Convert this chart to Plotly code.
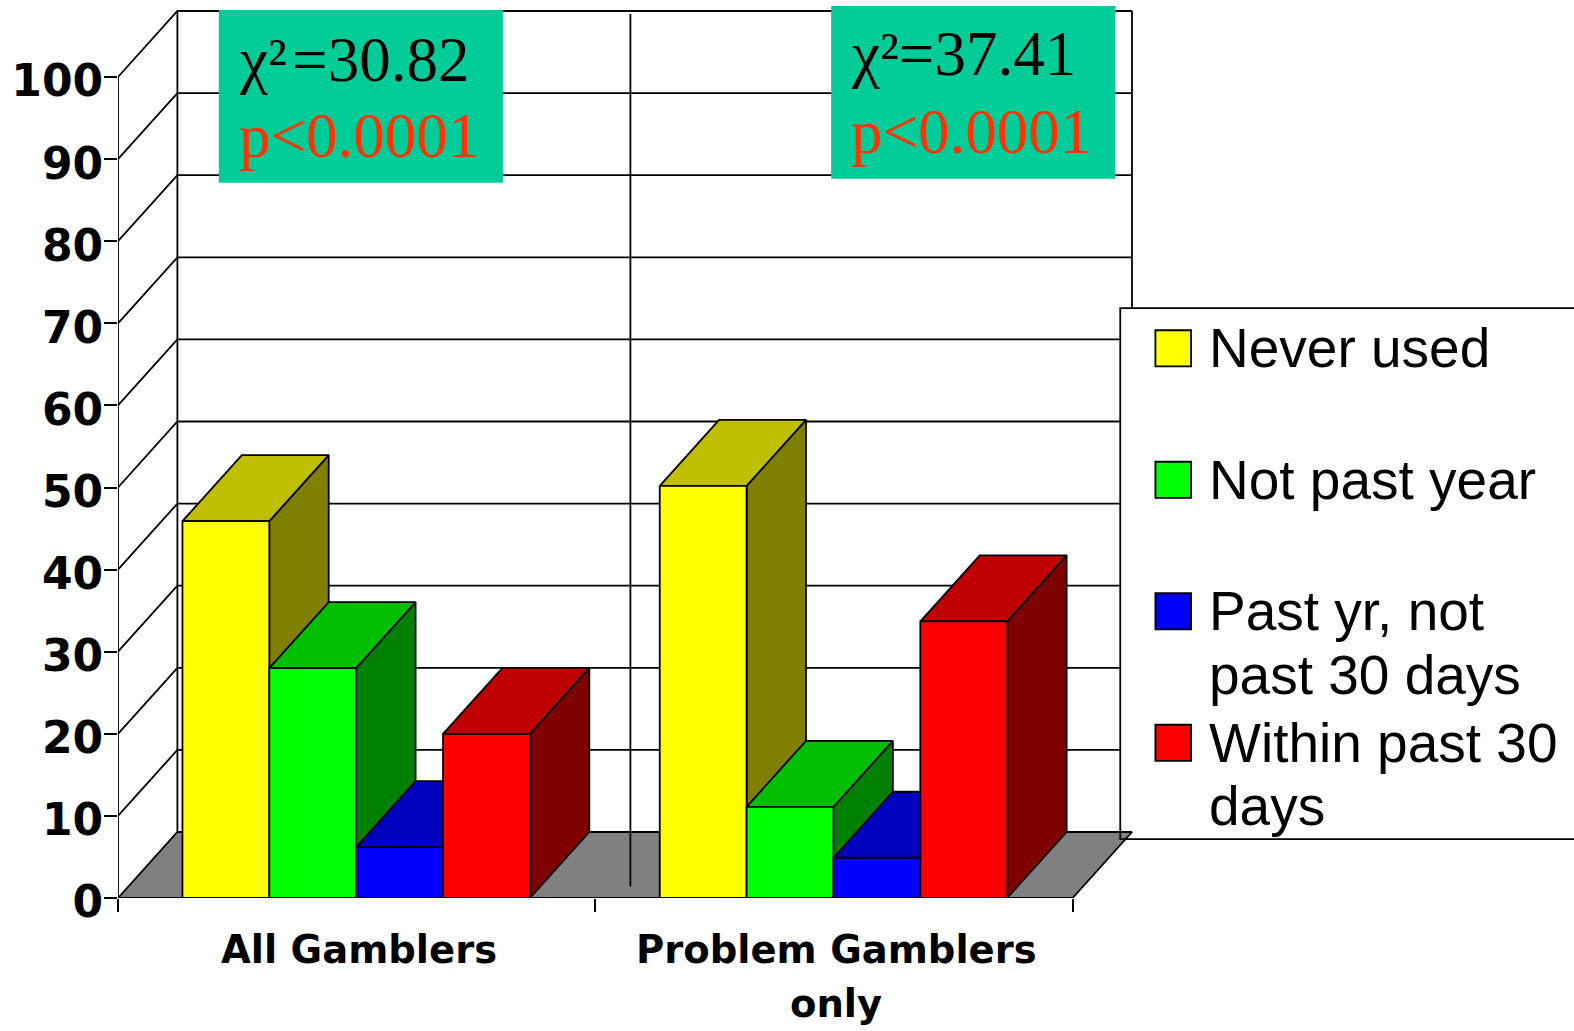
import plotly.graph_objects as go

# ---------- data ----------
categories = ["All Gamblers", "Problem Gamblers"]
category_second_line = [None, "only"]
series_names = ["Never used", "Not past year", "Past yr, not past 30 days", "Within past 30 days"]
never_used = [45.9, 50.2]
not_past_year = [28.0, 11.1]
past_yr_not_30 = [6.2, 4.9]
within_30 = [20.0, 33.7]
y_ticks = [0, 10, 20, 30, 40, 50, 60, 70, 80, 90, 100]

front_colors = ["#FFFF00", "#00FF00", "#0000FF", "#FF0000"]
top_colors = ["#BFBF00", "#00BF00", "#0000BF", "#BF0000"]
side_colors = ["#808000", "#008000", "#00007F", "#7F0000"]

# ---------- frame ----------
W, H = 1574, 1031
ML, MB = 118, 133
PX_X = 477.3   # pixels per category
PX_Y = 8.21    # pixels per percent
DX = 59.4 / PX_X
DY = 66.0 / PX_Y
BAR_W = 0.182
BAR_START = 0.135
LINE = dict(color="black", width=1.8)
k = 1574 / 1568


def X(p):
    return (p * k - ML) / PX_X


def Y(p):
    return (H - MB - p * k) / PX_Y


fig = go.Figure()


def poly(xs, ys, color):
    fig.add_trace(go.Scatter(x=xs, y=ys, mode="lines", fill="toself", fillcolor=color,
                             line=LINE, showlegend=False, hoverinfo="skip", cliponaxis=False))


def path(xs, ys):
    fig.add_trace(go.Scatter(x=xs, y=ys, mode="lines", line=LINE, showlegend=False,
                             hoverinfo="skip", cliponaxis=False))


legend_left = X(1116)
legend_top = Y(307)
legend_bottom = Y(836)

# floor
poly([0, DX, 2 + DX, 2, 0], [0, DY, DY, 0, 0], "#808080")

# walls and gridlines
gx, gy = [], []
for v in y_ticks[1:]:
    back = v + DY
    end = legend_left if back < legend_top else 2 + DX
    gx += [0, DX, end, None]
    gy += [v, back, back, None]
path(gx, gy)
path([DX, DX], [DY, 100 + DY])
path([2 + DX, 2 + DX], [legend_top, 100 + DY])
path([X(628), X(628)], [Y(883), Y(14)])

# axis lines
path([0, 0], [0, 100])
path([0, 2], [0, 0])

# bars, painted left to right
values = [never_used, not_past_year, past_yr_not_30, within_30]
for c in range(len(categories)):
    for s, vals in enumerate(values):
        x0 = c + BAR_START + s * BAR_W
        x1 = x0 + BAR_W
        v = vals[c]
        poly([x1, x1 + DX, x1 + DX, x1, x1], [0, DY, v + DY, v, 0], side_colors[s])
        poly([x0, x0 + DX, x1 + DX, x1, x0], [v, v + DY, v + DY, v, v], top_colors[s])
        poly([x0, x0, x1, x1, x0], [0, v, v, 0, 0], front_colors[s])

shapes = []
annots = []

# statistic boxes
boxes = [
    (218, 501, 10, 182, "\u03c7\u00b2\u200a=30.82", "p&lt;0.0001", 236, 60, 135),
    (828, 1111, 6, 178, "\u03c7\u00b2=37.41", "p&lt;0.0001", 846, 54, 131),
]
for bx0, bx1, by0, by1, t1, t2, tx, y1, y2 in boxes:
    shapes.append(dict(type="rect", xref="x", yref="y", x0=X(bx0), x1=X(bx1), y0=Y(by1), y1=Y(by0),
                       fillcolor="#00CC99", line=dict(width=0), layer="above"))
    annots.append(dict(x=X(tx), y=Y(y1), text=t1, xref="x", yref="y", showarrow=False, xanchor="left",
                       yanchor="middle", align="left",
                       font=dict(family="Liberation Serif", size=63, color="black")))
    annots.append(dict(x=X(tx), y=Y(y2), text=t2, xref="x", yref="y", showarrow=False, xanchor="left",
                       yanchor="middle", align="left",
                       font=dict(family="Liberation Serif", size=63, color="#FF3300")))

# legend
shapes.append(dict(type="rect", xref="x", yref="y", x0=legend_left, x1=X(1590), y0=legend_bottom, y1=legend_top,
                   fillcolor="rgba(0,0,0,0)", line=dict(color="black", width=1.8), layer="above"))
legend_rows = [
    (0, 347, ["Never used"]),
    (1, 478, ["Not past year"]),
    (2, 609, ["Past yr, not", "past 30 days"]),
    (3, 740, ["Within past 30", "days"]),
]
for s, yc, lines in legend_rows:
    shapes.append(dict(type="rect", xref="x", yref="y", x0=X(1151), x1=X(1186.5), y0=Y(yc + 18), y1=Y(yc - 18),
                       fillcolor=front_colors[s], line=LINE, layer="above"))
    for j, txt in enumerate(lines):
        annots.append(dict(x=X(1202), y=Y(yc + j * 63), text=txt, xref="x", yref="y", showarrow=False,
                           xanchor="left", yanchor="middle", align="left",
                           font=dict(family="Liberation Sans", size=55, color="black")))

# second line of the category label, set at the reference's tighter line spacing
plot_h = H - MB
for c, txt in enumerate(category_second_line):
    if txt:
        annots.append(dict(x=c + 0.5 + 0.005, y=(plot_h - 1000 * k) / plot_h, text=txt, xref="x", yref="paper",
                           showarrow=False, xanchor="center", yanchor="middle",
                           font=dict(family="DejaVu Sans", size=38.5, color="black", weight="bold")))

fig.update_layout(
    width=W, height=H,
    margin=dict(l=ML, r=0, t=0, b=MB, autoexpand=False),
    paper_bgcolor="white", plot_bgcolor="white",
    showlegend=False,
    shapes=shapes, annotations=annots,
    xaxis=dict(range=[0, (W - ML) / PX_X], showgrid=False, zeroline=False, showline=False,
               tickmode="array", tickvals=[0.505, 1.505], ticktext=categories,
               ticks="", ticklabelstandoff=25,
               tickfont=dict(family="DejaVu Sans", size=38.5, color="black", weight="bold"),
               minor=dict(tickmode="array", tickvals=[0, 1, 2], ticks="outside", ticklen=13,
                          tickwidth=1.8, tickcolor="black", showgrid=False)),
    yaxis=dict(range=[0, (H - MB) / PX_Y], showgrid=False, zeroline=False, showline=False,
               tickmode="array", tickvals=y_ticks, ticks="outside", ticklen=13, tickwidth=1.8,
               tickcolor="black", ticklabelstandoff=-8, ticklabelshift=4,
               tickfont=dict(family="DejaVu Sans", size=44, color="black", weight="bold")),
)
fig.write_html("out.html", config=dict(displayModeBar=False),
               post_script="document.body.style.margin='0';document.documentElement.style.overflow='hidden';")
